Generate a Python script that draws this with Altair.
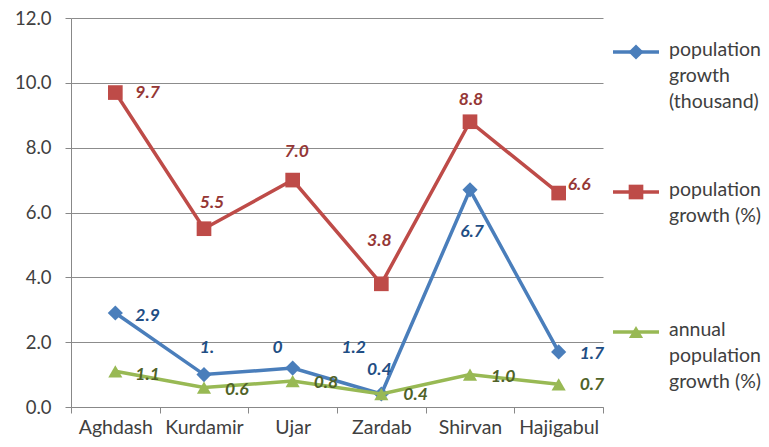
import altair as alt
import pandas as pd

categories = ["Aghdash", "Kurdamir", "Ujar", "Zardab", "Shirvan", "Hajigabul"]
series_names = ["population growth (thousand)", "population growth (%)", "annual population growth (%)"]
legend_labels = ["population\ngrowth\n(thousand)", "population\ngrowth (%)", "annual\npopulation\ngrowth (%)"]
growth_thousand = [2.9, 1.0, 1.2, 0.4, 6.7, 1.7]
growth_pct = [9.7, 5.5, 7.0, 3.8, 8.8, 6.6]
annual_growth_pct = [1.1, 0.6, 0.8, 0.4, 1.0, 0.7]
y_ticks = [0, 2, 4, 6, 8, 10, 12]

# data labels as they appear: (series index, category, text)
label_series = [0, 0, 0, 0, 0, 0, 0,
                1, 1, 1, 1, 1, 1,
                2, 2, 2, 2, 2, 2]
label_category = ["Aghdash", "Kurdamir", "Ujar", "Ujar", "Zardab", "Shirvan", "Hajigabul",
                  "Aghdash", "Kurdamir", "Ujar", "Zardab", "Shirvan", "Hajigabul",
                  "Aghdash", "Kurdamir", "Ujar", "Zardab", "Shirvan", "Hajigabul"]
label_text = ["2.9", "1.", "0", "1.2", "0.4", "6.7", "1.7",
              "9.7", "5.5", "7.0", "3.8", "8.8", "6.6",
              "1.1", "0.6", "0.8", "0.4", "1.0", "0.7"]

# styling: label placement (align, dx, dy)
label_style = [("left", 20, 3), ("center", 3, -27), ("center", -15, -20), ("center", 61, -20),
               ("center", -2, -24), ("center", 2, 42), ("left", 21, 2),
               ("left", 20, 0), ("center", 8, -26), ("center", 4, -28), ("center", -2, -43),
               ("center", 1, -22), ("left", 9, -8),
               ("left", 20, 4), ("left", 21, 2), ("left", 21, 2), ("left", 22, 1),
               ("left", 21, 2), ("left", 21, 1)]

line_colors = ["#4A7EBB", "#BE4B48", "#98B954"]
label_colors = ["#1F4E84", "#953735", "#4F6228"]
shapes = ["diamond", "square", "triangle-up"]
sizes = [230, 200, 240]

FONT = "Lato"

values = [growth_thousand, growth_pct, annual_growth_pct]
rows = []
for s, vals in zip(series_names, values):
    for c, v in zip(categories, vals):
        rows.append({"category": c, "series": s, "value": v})
df = pd.DataFrame(rows)

color_scale = alt.Scale(domain=series_names, range=line_colors)
shape_scale = alt.Scale(domain=series_names, range=shapes)
size_scale = alt.Scale(domain=series_names, range=sizes)

x_enc = alt.X("category:N", sort=categories,
              scale=alt.Scale(type="band", domain=categories, paddingInner=0, paddingOuter=0),
              axis=alt.Axis(title=None, labelAngle=0, tickBand="extent",
                            tickSize=6, labelPadding=5, labelFontSize=19.5, labelFont=FONT,
                            labelColor="#404040", domainColor="#888888", tickColor="#888888",
                            grid=False))
y_enc = alt.Y("value:Q", scale=alt.Scale(domain=[0, 12], nice=False, zero=True),
              axis=alt.Axis(title=None, values=y_ticks, format=".1f", tickSize=6, labelPadding=14,
                            labelFontSize=18.5, labelFont=FONT, labelColor="#404040",
                            domainColor="#888888", tickColor="#888888", gridColor="#8C8C8C",
                            gridWidth=1, grid=True))

layers = []
for i, s in enumerate(series_names):
    sub = df[df["series"] == s]
    base = alt.Chart(sub)
    line = base.mark_line(strokeWidth=3.5).encode(
        x=x_enc, y=y_enc,
        color=alt.Color("series:N", scale=color_scale, legend=None))
    pts = base.mark_point(filled=True, opacity=1).encode(
        x=x_enc, y=y_enc,
        color=alt.Color("series:N", scale=color_scale, legend=None),
        shape=alt.Shape("series:N", scale=shape_scale, legend=None),
        size=alt.Size("series:N", scale=size_scale, legend=None))
    layers += [line, pts]

for si, cat, txt, (al, dx, dy) in zip(label_series, label_category, label_text, label_style):
    v = values[si][categories.index(cat)]
    ldf = pd.DataFrame([{"category": cat, "value": v, "text": txt}])
    layers.append(
        alt.Chart(ldf).mark_text(align=al, baseline="middle", dx=dx, dy=dy, font=FONT,
                                 fontSize=17.5, fontWeight="bold", fontStyle="italic",
                                 color=label_colors[si]).encode(x=x_enc, y=y_enc, text="text:N"))

main = alt.layer(*layers)

# legend drawn to the right of the plot area
leg_df = pd.DataFrame({"series": series_names, "label": legend_labels})
leg_y = alt.Y("series:N", sort=series_names,
              scale=alt.Scale(type="point", domain=series_names, range=[34, 314], padding=0),
              axis=None)
leg_base = alt.Chart(leg_df)
leg_rule = leg_base.mark_rule(strokeWidth=3.5).encode(
    x=alt.value({"expr": "width + 10"}), x2=alt.value({"expr": "width + 56"}), y=leg_y,
    color=alt.Color("series:N", scale=color_scale, legend=None))
leg_pts = leg_base.mark_point(filled=True, opacity=1).encode(
    x=alt.value({"expr": "width + 33"}), y=leg_y,
    color=alt.Color("series:N", scale=color_scale, legend=None),
    shape=alt.Shape("series:N", scale=shape_scale, legend=None),
    size=alt.Size("series:N", scale=size_scale, legend=None))
leg_text = leg_base.mark_text(align="left", baseline="top", dy=-11, lineBreak="\n",
                              lineHeight=26, font=FONT, fontSize=19.5, color="#404040").encode(
    x=alt.value({"expr": "width + 66"}), y=leg_y, text="label:N")
legend = alt.layer(leg_rule, leg_pts, leg_text)

chart = alt.layer(main, legend).resolve_scale(y="independent").properties(
    width=753, height=429,
    autosize=alt.AutoSizeParams(type="fit", contains="padding"),
    padding={"left": 6, "top": 1, "right": 0, "bottom": 0},
).configure_view(strokeWidth=0)

chart.save("out.html", embed_options={"renderer": "svg", "actions": False})
